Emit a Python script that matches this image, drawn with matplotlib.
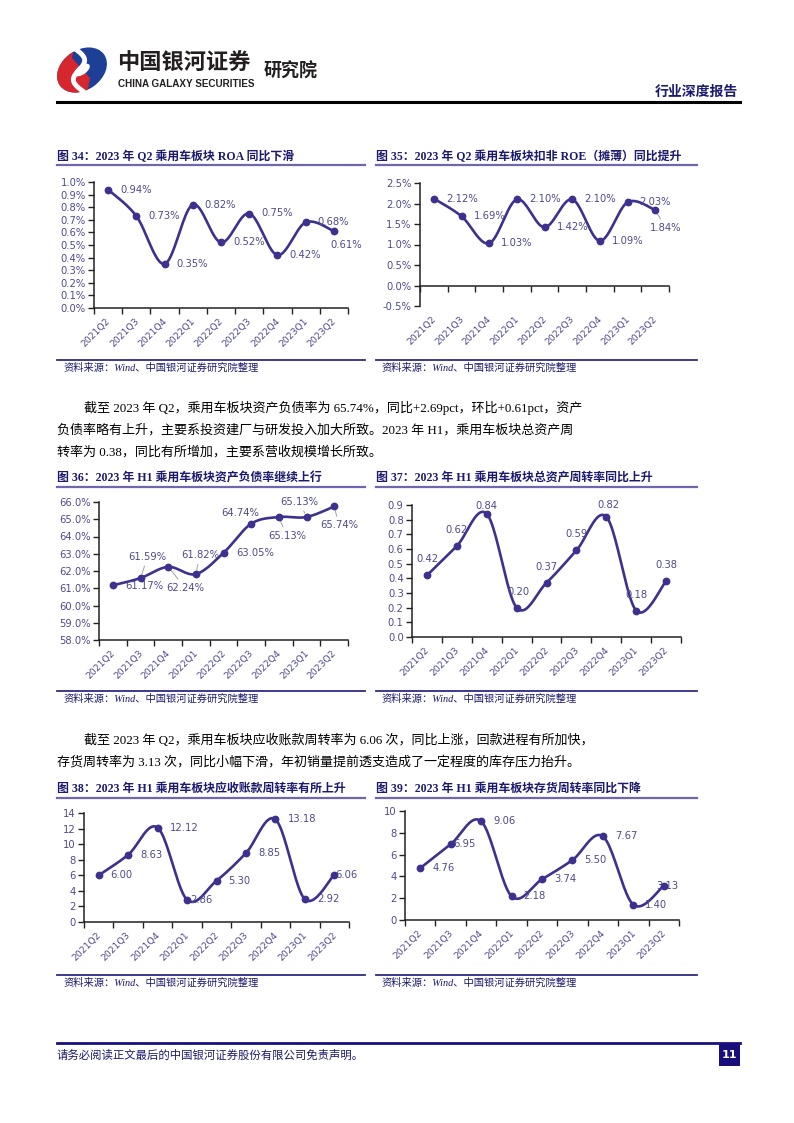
import numpy as np
import matplotlib
matplotlib.use('Agg')
import matplotlib.pyplot as plt
from matplotlib.patches import Ellipse, Polygon, Rectangle
from matplotlib.transforms import blended_transform_factory, ScaledTranslation

plt.rcParams['font.family'] = ['DejaVu Sans', 'Noto Sans CJK SC']

# ---- data ----
cats = ['2021Q2', '2021Q3', '2021Q4', '2022Q1', '2022Q2', '2022Q3', '2022Q4', '2023Q1', '2023Q2']
roa = [0.94, 0.73, 0.35, 0.82, 0.52, 0.75, 0.42, 0.68, 0.61]
roe = [2.12, 1.69, 1.03, 2.10, 1.42, 2.10, 1.09, 2.03, 1.84]
debt_ratio = [61.17, 61.59, 62.24, 61.82, 63.05, 64.74, 65.13, 65.13, 65.74]
asset_turn = [0.42, 0.62, 0.84, 0.20, 0.37, 0.59, 0.82, 0.18, 0.38]
ar_turn = [6.00, 8.63, 12.12, 2.86, 5.30, 8.85, 13.18, 2.92, 6.06]
inv_turn = [4.76, 6.95, 9.06, 2.18, 3.74, 5.50, 7.67, 1.40, 3.13]

titles = ['图 34：2023 年 Q2 乘用车板块 ROA 同比下滑',
          '图 35：2023 年 Q2 乘用车板块扣非 ROE（摊薄）同比提升',
          '图 36：2023 年 H1 乘用车板块资产负债率继续上行',
          '图 37：2023 年 H1 乘用车板块总资产周转率同比上升',
          '图 38：2023 年 H1 乘用车板块应收账款周转率有所上升',
          '图 39：2023 年 H1 乘用车板块存货周转率同比下降']
source = '资料来源：Wind、中国银河证券研究院整理'
para1 = ['截至 2023 年 Q2，乘用车板块资产负债率为 65.74%，同比+2.69pct，环比+0.61pct，资产',
         '负债率略有上升，主要系投资建厂与研发投入加大所致。2023 年 H1，乘用车板块总资产周',
         '转率为 0.38，同比有所增加，主要系营收规模增长所致。']
para2 = ['截至 2023 年 Q2，乘用车板块应收账款周转率为 6.06 次，同比上涨，回款进程有所加快，',
         '存货周转率为 3.13 次，同比小幅下滑，年初销量提前透支造成了一定程度的库存压力抬升。']

W, H = 794, 1123
LINE = '#3d3190'
LAB = '#4d4b8c'
NAVY = '#1c1a6e'
SERIF = ['Liberation Serif', 'Noto Sans CJK SC']

fig = plt.figure(figsize=(W / 100, H / 100), dpi=100)

# background layer in pixel coords
bg = fig.add_axes([0, 0, 1, 1])
bg.set_xlim(0, W)
bg.set_ylim(H, 0)
bg.axis('off')

# logo
ell = Ellipse((82, 70), 54, 40, angle=-35, facecolor='#1d3f95', edgecolor='none')
bg.add_patch(ell)
red = Polygon([(30, 30), (76, 38), (72, 58), (90, 78), (84, 110), (30, 110)],
              facecolor='#d7262e', edgecolor='none')
bg.add_patch(red)
red.set_clip_path(ell)
tt = np.linspace(0, 1, 40)
bg.plot(74 + 10 * tt + 8 * np.sin(2 * np.pi * tt), 48 + 44 * tt, color='white', lw=3.5,
        solid_capstyle='round')
bg.add_patch(Ellipse((82, 70), 18, 9, angle=-35, facecolor='white', edgecolor='none'))

bg.text(117, 63, '中国银河证券', fontsize=16, weight='bold', color='#231f20', va='center',
        family='Noto Sans CJK SC')
bg.text(118, 84, 'CHINA GALAXY SECURITIES', fontsize=7.1, weight='bold', color='#231f20',
        va='center', family='Liberation Sans')
bg.text(264, 71, '研究院', fontsize=13, weight='bold', color='#231f20', va='center',
        family='Noto Sans CJK SC')
bg.plot([57, 740], [102, 102], color='black', lw=2.2)
bg.text(738, 92, '行业深度报告', fontsize=10, weight='bold', color=NAVY, ha='right', va='center',
        family='Noto Sans CJK SC')

# body paragraphs
for i, s in enumerate(para1):
    bg.text(84 if i == 0 else 57, 408 + 22 * i, s, fontsize=9.4, va='center', color='black', family=SERIF)
for i, s in enumerate(para2):
    bg.text(84 if i == 0 else 57, 740 + 22 * i, s, fontsize=9.4, va='center', color='black', family=SERIF)

# footer
bg.plot([57, 740], [1043, 1043], color='#1a1080', lw=2)
bg.text(57, 1055, '请务必阅读正文最后的中国银河证券股份有限公司免责声明。', fontsize=8.2,
        va='center', color=NAVY, family='Noto Sans CJK SC')
bg.add_patch(Rectangle((719, 1043), 21, 23, facecolor='#1a0f7a', edgecolor='none'))
bg.text(729.5, 1055, '11', fontsize=8, weight='bold', color='white', ha='center', va='center')

# chart frames: title, underline, source line and text
frames = [(57, 365, 157, 165, 360), (376, 697, 157, 165, 360),
          (57, 365, 478, 487, 691), (376, 697, 478, 487, 691),
          (57, 365, 789, 798, 975), (376, 697, 789, 798, 975)]
for (x0, x1, ty, uy, sy), t in zip(frames, titles):
    bg.text(x0, ty, t, fontsize=8.6, weight='bold', color=NAVY, va='center', family=SERIF)
    bg.plot([x0, x1], [uy, uy], color='#6f66b0', lw=1.6)
    bg.plot([x0, x1], [sy, sy], color='#2e2a85', lw=1.3)
    bg.text(x0 + 6, sy + 8, source, fontsize=7.4, style='italic', color=NAVY, va='center',
            family=SERIF)


def smooth(y, n=24):
    p = np.column_stack([np.arange(len(y)), y]).astype(float)
    ext = np.vstack([p[0], p, p[-1]])
    t = np.linspace(0, 1, n)[:, None]
    out = []
    for i in range(len(p) - 1):
        p0, p1, p2, p3 = ext[i], ext[i + 1], ext[i + 2], ext[i + 3]
        seg = 0.5 * (2 * p1 + (-p0 + p2) * t + (2 * p0 - 5 * p1 + 4 * p2 - p3) * t ** 2
                     + (-p0 + 3 * p1 - 3 * p2 + p3) * t ** 3)
        out.append(seg if i == 0 else seg[1:])
    c = np.vstack(out)
    return c[:, 0], c[:, 1]


def make_ax(x0, x1, ytop, ybot):
    return fig.add_axes([x0 / W, 1 - ybot / H, (x1 - x0) / W, (ybot - ytop) / H])


def draw_chart(ax, vals, ylim, yticks, yfmt, lfmt, offs, leaders=(), zero_axis=False):
    x = np.arange(len(cats))
    xs, ys = smooth(vals)
    ax.patch.set_alpha(0)
    ax.plot(xs, ys, color=LINE, lw=1.9, clip_on=False, solid_capstyle='round', zorder=3)
    ax.plot(x, vals, 'o', color=LINE, ms=4.6, clip_on=False, zorder=4)
    ax.set_xlim(-0.5, 8.5)
    ax.set_ylim(*ylim)
    ax.set_yticks(yticks)
    ax.set_yticklabels([yfmt.format(v) for v in yticks])
    ax.set_xticks(np.arange(-0.5, 9, 1))
    ax.set_xticklabels([])
    for s in ['top', 'right']:
        ax.spines[s].set_visible(False)
    for s in ['left', 'bottom']:
        ax.spines[s].set_color('#222222')
        ax.spines[s].set_linewidth(1.1)
    if zero_axis:
        ax.spines['bottom'].set_position(('data', 0))
    ax.tick_params(direction='out', length=4, width=1.0, color='#222222',
                   labelsize=7.2, labelcolor=LAB, pad=2)
    trans = blended_transform_factory(ax.transData, ax.transAxes) + \
        ScaledTranslation(1 / 100, -12 / 100, fig.dpi_scale_trans)
    for i, c in enumerate(cats):
        ax.text(i, 0, c, transform=trans, rotation=45, rotation_mode='anchor',
                ha='right', va='center', fontsize=6.7, color=LAB)
    for i, v in enumerate(vals):
        dx, dy, ha = offs[i]
        kw = {}
        if i in leaders:
            kw['arrowprops'] = dict(arrowstyle='-', color='#a0a0a0', lw=0.7, shrinkA=1, shrinkB=3)
        ax.annotate(lfmt.format(v), (i, v), xytext=(dx * 0.72, -dy * 0.72),
                    textcoords='offset points', ha=ha, va='center', fontsize=7.2,
                    color=LAB, annotation_clip=False, **kw)


R = (12, 0, 'left')

ax34 = make_ax(94, 348, 182, 308)
draw_chart(ax34, roa, (0, 1.0), np.arange(0, 1.01, 0.1), '{:.1f}%', '{:.2f}%',
           [R] * 8 + [(-4, 14, 'left')])

ax35 = make_ax(420, 669, 183, 306)
draw_chart(ax35, roe, (-0.5, 2.5), np.arange(-0.5, 2.51, 0.5), '{:.1f}%', '{:.2f}%',
           [R] * 8 + [(-5, 18, 'left')], leaders=(8,), zero_axis=True)

ax36 = make_ax(99, 348, 502, 640)
draw_chart(ax36, debt_ratio, (58, 66), np.arange(58, 66.1, 1), '{:.1f}%', '{:.2f}%',
           [(12, 1, 'left'), (-12, -21, 'left'), (-2, 21, 'left'), (-15, -19, 'left'),
            (13, 0, 'left'), (-30, -11, 'left'), (-11, 19, 'left'), (-26, -15, 'left'),
            (-14, 19, 'left')], leaders=(1, 2, 3, 6, 7, 8))

U = (0, -16, 'center')
ax37 = make_ax(412, 681, 505, 637)
draw_chart(ax37, asset_turn, (0, 0.9), np.arange(0, 0.91, 0.1), '{:.1f}', '{:.2f}',
           [U, U, (0, -8, 'center'), (2, -16, 'center'), U, U, (2, -12, 'center'), U, U])

ax38 = make_ax(84, 349, 813, 922)
draw_chart(ax38, ar_turn, (0, 14), np.arange(0, 14.1, 2), '{:.0f}', '{:.2f}',
           [R, R, R, (3, 0, 'left'), R, R, R, R, (1, 0, 'left')])

ax39 = make_ax(405, 679, 811, 920)
draw_chart(ax39, inv_turn, (0, 10), np.arange(0, 10.1, 2), '{:.0f}', '{:.2f}',
           [R, (3, 0, 'left'), R, R, R, R, R, R, (-8, 0, 'left')])

fig.savefig('out.png', dpi=100)
